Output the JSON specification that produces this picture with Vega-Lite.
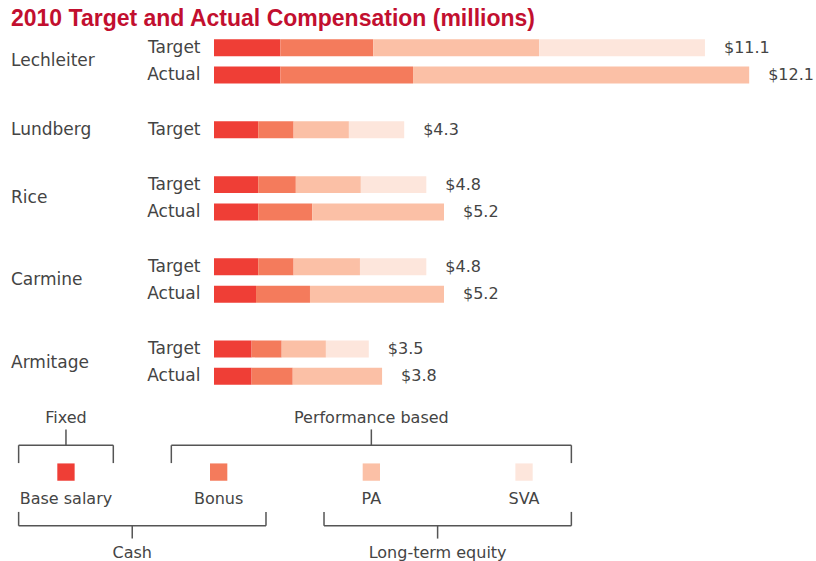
{
  "$schema": "https://vega.github.io/schema/vega-lite/v6.json",
  "padding": {"left": 11, "top": 8, "right": 0, "bottom": 0},
  "background": "white",
  "title": {"text": "2010 Target and Actual Compensation (millions)", "anchor": "start", "font": "Liberation Sans", "fontSize": 23, "fontWeight": "bold", "color": "#c20f2f", "offset": 3},
  "config": {"view": {"stroke": null}, "font": "DejaVu Sans"},
  "datasets": {
    "comp": [
      {"person": "Lechleiter", "type": "Target", "key": "Lechleiter|Target", "component": "Base salary", "value": 1.5},
      {"person": "Lechleiter", "type": "Target", "key": "Lechleiter|Target", "component": "Bonus", "value": 2.1},
      {"person": "Lechleiter", "type": "Target", "key": "Lechleiter|Target", "component": "PA", "value": 3.75},
      {"person": "Lechleiter", "type": "Target", "key": "Lechleiter|Target", "component": "SVA", "value": 3.75},
      {"person": "Lechleiter", "type": "Actual", "key": "Lechleiter|Actual", "component": "Base salary", "value": 1.5},
      {"person": "Lechleiter", "type": "Actual", "key": "Lechleiter|Actual", "component": "Bonus", "value": 3.0},
      {"person": "Lechleiter", "type": "Actual", "key": "Lechleiter|Actual", "component": "PA", "value": 7.6},
      {"person": "Lundberg", "type": "Target", "key": "Lundberg|Target", "component": "Base salary", "value": 1.0},
      {"person": "Lundberg", "type": "Target", "key": "Lundberg|Target", "component": "Bonus", "value": 0.8},
      {"person": "Lundberg", "type": "Target", "key": "Lundberg|Target", "component": "PA", "value": 1.25},
      {"person": "Lundberg", "type": "Target", "key": "Lundberg|Target", "component": "SVA", "value": 1.25},
      {"person": "Rice", "type": "Target", "key": "Rice|Target", "component": "Base salary", "value": 1.0},
      {"person": "Rice", "type": "Target", "key": "Rice|Target", "component": "Bonus", "value": 0.85},
      {"person": "Rice", "type": "Target", "key": "Rice|Target", "component": "PA", "value": 1.47},
      {"person": "Rice", "type": "Target", "key": "Rice|Target", "component": "SVA", "value": 1.48},
      {"person": "Rice", "type": "Actual", "key": "Rice|Actual", "component": "Base salary", "value": 1.0},
      {"person": "Rice", "type": "Actual", "key": "Rice|Actual", "component": "Bonus", "value": 1.22},
      {"person": "Rice", "type": "Actual", "key": "Rice|Actual", "component": "PA", "value": 2.98},
      {"person": "Carmine", "type": "Target", "key": "Carmine|Target", "component": "Base salary", "value": 1.0},
      {"person": "Carmine", "type": "Target", "key": "Carmine|Target", "component": "Bonus", "value": 0.8},
      {"person": "Carmine", "type": "Target", "key": "Carmine|Target", "component": "PA", "value": 1.5},
      {"person": "Carmine", "type": "Target", "key": "Carmine|Target", "component": "SVA", "value": 1.5},
      {"person": "Carmine", "type": "Actual", "key": "Carmine|Actual", "component": "Base salary", "value": 0.95},
      {"person": "Carmine", "type": "Actual", "key": "Carmine|Actual", "component": "Bonus", "value": 1.22},
      {"person": "Carmine", "type": "Actual", "key": "Carmine|Actual", "component": "PA", "value": 3.03},
      {"person": "Armitage", "type": "Target", "key": "Armitage|Target", "component": "Base salary", "value": 0.85},
      {"person": "Armitage", "type": "Target", "key": "Armitage|Target", "component": "Bonus", "value": 0.68},
      {"person": "Armitage", "type": "Target", "key": "Armitage|Target", "component": "PA", "value": 1.0},
      {"person": "Armitage", "type": "Target", "key": "Armitage|Target", "component": "SVA", "value": 0.97},
      {"person": "Armitage", "type": "Actual", "key": "Armitage|Actual", "component": "Base salary", "value": 0.85},
      {"person": "Armitage", "type": "Actual", "key": "Armitage|Actual", "component": "Bonus", "value": 0.93},
      {"person": "Armitage", "type": "Actual", "key": "Armitage|Actual", "component": "PA", "value": 2.02}
    ],
    "names": [
      {"person": "Lechleiter", "key": "Lechleiter|Actual", "rows": 2},
      {"person": "Lundberg", "key": "Lundberg|Target", "rows": 1},
      {"person": "Rice", "key": "Rice|Actual", "rows": 2},
      {"person": "Carmine", "key": "Carmine|Actual", "rows": 2},
      {"person": "Armitage", "key": "Armitage|Actual", "rows": 2}
    ],
    "items": [
      {"component": "Base salary"},
      {"component": "Bonus"},
      {"component": "PA"},
      {"component": "SVA"}
    ],
    "brackets": [
      {"bracket": "Fixed", "side": "top", "first": "Base salary", "last": "Base salary", "anchor": "Base salary"},
      {"bracket": "Performance based", "side": "top", "first": "Bonus", "last": "SVA", "anchor": "PA"},
      {"bracket": "Cash", "side": "bottom", "first": "Base salary", "last": "Bonus", "anchor": "Base salary"},
      {"bracket": "Long-term equity", "side": "bottom", "first": "PA", "last": "SVA", "anchor": "PA"}
    ]
  },
  "vconcat": [
    {
      "spacing": 33,
      "hconcat": [
        {
          "width": 100,
          "height": 356,
          "data": {"name": "names"},
          "layer": [
            {
              "transform": [{"filter": "datum.rows == 2"}],
              "mark": {"type": "text", "align": "left", "baseline": "middle", "fontSize": 17, "color": "#444444", "yOffset": -13.7},
              "encoding": {
                "x": {"value": 0},
                "y": {"field": "key", "type": "nominal", "axis": null, "scale": {"type": "band", "domain": ["Lechleiter|Target", "Lechleiter|Actual", "gap1", "Lundberg|Target", "gap2", "Rice|Target", "Rice|Actual", "gap3", "Carmine|Target", "Carmine|Actual", "gap4", "Armitage|Target", "Armitage|Actual"], "paddingInner": 0.38, "paddingOuter": 0.19}},
                "text": {"field": "person"}
              }
            },
            {
              "transform": [{"filter": "datum.rows == 1"}],
              "mark": {"type": "text", "align": "left", "baseline": "middle", "fontSize": 17, "color": "#444444"},
              "encoding": {
                "x": {"value": 0},
                "y": {"field": "key", "type": "nominal", "axis": null, "scale": {"type": "band", "domain": ["Lechleiter|Target", "Lechleiter|Actual", "gap1", "Lundberg|Target", "gap2", "Rice|Target", "Rice|Actual", "gap3", "Carmine|Target", "Carmine|Actual", "gap4", "Armitage|Target", "Armitage|Actual"], "paddingInner": 0.38, "paddingOuter": 0.19}},
                "text": {"field": "person"}
              }
            }
          ]
        },
        {
          "width": 575,
          "height": 356,
          "data": {"name": "comp"},
          "layer": [
            {
              "mark": {"type": "bar"},
              "encoding": {
                "y": {"field": "key", "type": "nominal", "scale": {"type": "band", "domain": ["Lechleiter|Target", "Lechleiter|Actual", "gap1", "Lundberg|Target", "gap2", "Rice|Target", "Rice|Actual", "gap3", "Carmine|Target", "Carmine|Actual", "gap4", "Armitage|Target", "Armitage|Actual"], "paddingInner": 0.38, "paddingOuter": 0.19},
                  "axis": {"title": null, "domain": false, "ticks": false, "labelPadding": 14, "labelFontSize": 17, "labelColor": "#444444", "labelFont": "DejaVu Sans", "minExtent": 70, "maxExtent": 70, "labelExpr": "indexof(datum.value, '|') > 0 ? split(datum.value, '|')[1] : ''"}},
                "x": {"field": "value", "type": "quantitative", "stack": "zero", "scale": {"domain": [0, 13], "nice": false}, "axis": null},
                "color": {"field": "component", "type": "nominal", "scale": {"domain": ["Base salary", "Bonus", "PA", "SVA"], "range": ["#ef3e36", "#f47b5c", "#fbc0a6", "#fde6dc"]}, "legend": null}
              }
            },
            {
              "mark": {"type": "text", "align": "left", "baseline": "middle", "dx": 19, "fontSize": 16, "color": "#444444"},
              "encoding": {
                "y": {"field": "key", "type": "nominal"},
                "x": {"aggregate": "sum", "field": "value", "type": "quantitative"},
                "text": {"aggregate": "sum", "field": "value", "type": "quantitative", "format": "$.1f"}
              }
            }
          ]
        }
      ]
    },
    {
      "width": 568,
      "height": 161,
      "layer": [
        {
          "data": {"name": "items"},
          "mark": {"type": "square", "size": 300, "filled": true, "opacity": 1},
          "encoding": {
            "x": {"field": "component", "type": "nominal", "axis": null, "scale": {"type": "band", "domain": ["Base salary", "Bonus", "PA", "SVA"], "paddingInner": 0.38, "paddingOuter": 0.05}},
            "y": {"datum": "swatch", "type": "nominal", "axis": null, "scale": {"type": "point", "domain": ["group", "bracket", "swatch", "name", "bracket2", "group2"], "padding": 0.5}},
            "color": {"field": "component", "type": "nominal", "scale": {"domain": ["Base salary", "Bonus", "PA", "SVA"], "range": ["#ef3e36", "#f47b5c", "#fbc0a6", "#fde6dc"]}, "legend": null}
          }
        },
        {
          "data": {"name": "items"},
          "mark": {"type": "text", "baseline": "middle", "align": "center", "fontSize": 16, "color": "#444444"},
          "encoding": {
            "x": {"field": "component", "type": "nominal"},
            "y": {"datum": "name", "type": "nominal"},
            "text": {"field": "component"}
          }
        },
        {
          "data": {"name": "brackets"},
          "transform": [{"filter": "datum.side == 'top'"}],
          "mark": {"type": "rule", "color": "#555555", "strokeWidth": 1.5},
          "encoding": {
            "x": {"field": "first", "type": "nominal", "bandPosition": 0},
            "x2": {"field": "last", "bandPosition": 1},
            "y": {"datum": "bracket", "type": "nominal"}
          }
        },
        {
          "data": {"name": "brackets"},
          "transform": [{"filter": "datum.side == 'top'"}],
          "mark": {"type": "rule", "color": "#555555", "strokeWidth": 1.5, "y2Offset": -9},
          "encoding": {
            "x": {"field": "first", "type": "nominal", "bandPosition": 0},
            "y": {"datum": "bracket", "type": "nominal"},
            "y2": {"datum": "swatch"}
          }
        },
        {
          "data": {"name": "brackets"},
          "transform": [{"filter": "datum.side == 'top'"}],
          "mark": {"type": "rule", "color": "#555555", "strokeWidth": 1.5, "y2Offset": -9},
          "encoding": {
            "x": {"field": "last", "type": "nominal", "bandPosition": 1},
            "y": {"datum": "bracket", "type": "nominal"},
            "y2": {"datum": "swatch"}
          }
        },
        {
          "data": {"name": "brackets"},
          "transform": [{"filter": "datum.side == 'top'"}],
          "mark": {"type": "rule", "color": "#555555", "strokeWidth": 1.5, "yOffset": 11},
          "encoding": {
            "x": {"field": "anchor", "type": "nominal", "bandPosition": 0.5},
            "y": {"datum": "group", "type": "nominal"},
            "y2": {"datum": "bracket"}
          }
        },
        {
          "data": {"name": "brackets"},
          "transform": [{"filter": "datum.side == 'top'"}],
          "mark": {"type": "text", "baseline": "middle", "align": "center", "fontSize": 16, "color": "#444444"},
          "encoding": {
            "x": {"field": "anchor", "type": "nominal", "bandPosition": 0.5},
            "y": {"datum": "group", "type": "nominal"},
            "text": {"field": "bracket"}
          }
        },
        {
          "data": {"name": "brackets"},
          "transform": [{"filter": "datum.side == 'bottom'"}],
          "mark": {"type": "rule", "color": "#555555", "strokeWidth": 1.5},
          "encoding": {
            "x": {"field": "first", "type": "nominal", "bandPosition": 0},
            "x2": {"field": "last", "bandPosition": 1},
            "y": {"datum": "bracket2", "type": "nominal"}
          }
        },
        {
          "data": {"name": "brackets"},
          "transform": [{"filter": "datum.side == 'bottom'"}],
          "mark": {"type": "rule", "color": "#555555", "strokeWidth": 1.5, "yOffset": 13},
          "encoding": {
            "x": {"field": "first", "type": "nominal", "bandPosition": 0},
            "y": {"datum": "name", "type": "nominal"},
            "y2": {"datum": "bracket2"}
          }
        },
        {
          "data": {"name": "brackets"},
          "transform": [{"filter": "datum.side == 'bottom'"}],
          "mark": {"type": "rule", "color": "#555555", "strokeWidth": 1.5, "yOffset": 13},
          "encoding": {
            "x": {"field": "last", "type": "nominal", "bandPosition": 1},
            "y": {"datum": "name", "type": "nominal"},
            "y2": {"datum": "bracket2"}
          }
        },
        {
          "data": {"name": "brackets"},
          "transform": [{"filter": "datum.side == 'bottom'"}],
          "mark": {"type": "rule", "color": "#555555", "strokeWidth": 1.5, "y2Offset": -14},
          "encoding": {
            "x": {"field": "anchor", "type": "nominal", "bandPosition": 1.2},
            "y": {"datum": "bracket2", "type": "nominal"},
            "y2": {"datum": "group2"}
          }
        },
        {
          "data": {"name": "brackets"},
          "transform": [{"filter": "datum.side == 'bottom'"}],
          "mark": {"type": "text", "baseline": "middle", "align": "center", "fontSize": 16, "color": "#444444"},
          "encoding": {
            "x": {"field": "anchor", "type": "nominal", "bandPosition": 1.2},
            "y": {"datum": "group2", "type": "nominal"},
            "text": {"field": "bracket"}
          }
        }
      ]
    }
  ],
  "spacing": 15
}
